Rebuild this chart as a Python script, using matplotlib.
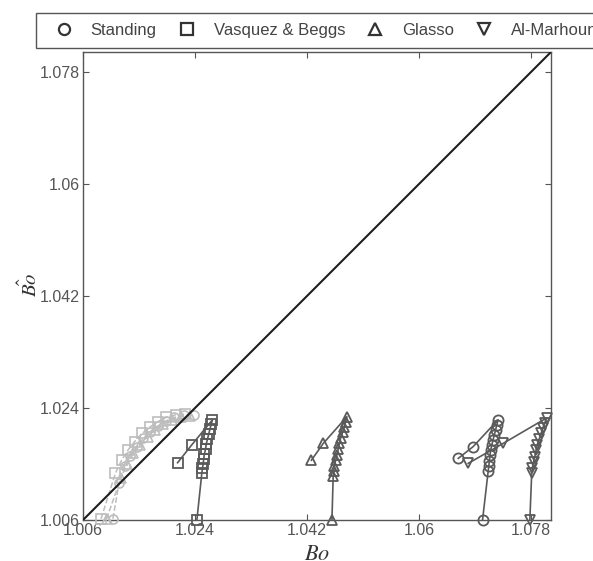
import matplotlib.pyplot as plt
from matplotlib.lines import Line2D

plt.rcParams["font.family"] = ["Liberation Sans", "DejaVu Sans"]
plt.rcParams["mathtext.fontset"] = "stix"

# x = measured Bo, y = predicted Bo
standing_x = [1.0663, 1.0687, 1.0727, 1.0725, 1.0723, 1.0721, 1.0719, 1.0717,
              1.0715, 1.0714, 1.0713, 1.0712, 1.0711, 1.0702]
standing_y = [1.0159, 1.0178, 1.0221, 1.0213, 1.0205, 1.0197, 1.0189, 1.0181,
              1.0172, 1.0164, 1.0155, 1.0146, 1.0138, 1.0060]

vasquez_x = [1.0212, 1.0235, 1.0268, 1.0266, 1.0264, 1.0262, 1.0260, 1.0258,
             1.0257, 1.0255, 1.0254, 1.0253, 1.0252, 1.0251, 1.0243]
vasquez_y = [1.0152, 1.0181, 1.0221, 1.0214, 1.0206, 1.0198, 1.0190, 1.0182,
             1.0174, 1.0166, 1.0158, 1.0150, 1.0143, 1.0136, 1.0060]

glasso_x = [1.0427, 1.0446, 1.0484, 1.0482, 1.0480, 1.0477, 1.0474, 1.0472,
            1.0470, 1.0468, 1.0466, 1.0464, 1.0463, 1.0462, 1.0460]
glasso_y = [1.0156, 1.0183, 1.0226, 1.0218, 1.0210, 1.0201, 1.0192, 1.0183,
            1.0174, 1.0165, 1.0156, 1.0147, 1.0138, 1.0130, 1.0060]

marhoun_x = [1.0679, 1.0735, 1.0805, 1.0802, 1.0799, 1.0796, 1.0793, 1.0790,
             1.0788, 1.0786, 1.0784, 1.0782, 1.0781, 1.0778]
marhoun_y = [1.0151, 1.0183, 1.0224, 1.0216, 1.0208, 1.0199, 1.0190, 1.0181,
             1.0172, 1.0162, 1.0153, 1.0144, 1.0135, 1.0060]

# light grey runs close to the diagonal
grey_circle_x = [1.0108, 1.0118, 1.0127, 1.0136, 1.0146, 1.0157, 1.0168,
                 1.0180, 1.0193, 1.0207, 1.0222, 1.0238]
grey_circle_y = [1.0062, 1.0120, 1.0146, 1.0163, 1.0178, 1.0191, 1.0202,
                 1.0211, 1.0219, 1.0225, 1.0228, 1.0228]
grey_square_x = [1.0089, 1.0112, 1.0122, 1.0132, 1.0143, 1.0155, 1.0167,
                 1.0180, 1.0194, 1.0209, 1.0224]
grey_square_y = [1.0062, 1.0135, 1.0156, 1.0172, 1.0186, 1.0199, 1.0209,
                 1.0218, 1.0225, 1.0229, 1.0230]
grey_tri_x = [1.0098, 1.0121, 1.0131, 1.0141, 1.0152, 1.0164, 1.0176,
              1.0189, 1.0203, 1.0218, 1.0232]
grey_tri_y = [1.0062, 1.0128, 1.0150, 1.0167, 1.0181, 1.0194, 1.0205,
              1.0214, 1.0221, 1.0226, 1.0227]

ticks = [1.006, 1.024, 1.042, 1.06, 1.078]
tick_labels = ["1.006", "1.024", "1.042", "1.06", "1.078"]
lim = (1.006, 1.0812)

DARK = "#5a5a5a"
LIGHT = "#bdbdbd"

fig = plt.figure(figsize=(5.93, 5.61), dpi=100)
ax = fig.add_axes([83 / 593, 41 / 561, 468 / 593, 468 / 561])

ax.plot(lim, lim, color="#1e1e1e", linewidth=1.5, zorder=5)

for xs, ys, m in [(grey_circle_x, grey_circle_y, "o"),
                  (grey_square_x, grey_square_y, "s"),
                  (grey_tri_x, grey_tri_y, "^")]:
    ax.plot(xs, ys, linestyle="--", color=LIGHT, linewidth=1.1, marker=m,
            markersize=6.5, markerfacecolor="none", markeredgecolor=LIGHT,
            markeredgewidth=1.2, clip_on=False, zorder=3)

for xs, ys, m in [(standing_x, standing_y, "o"),
                  (vasquez_x, vasquez_y, "s"),
                  (glasso_x, glasso_y, "^"),
                  (marhoun_x, marhoun_y, "v")]:
    ax.plot(xs, ys, color=DARK, linewidth=1.2, marker=m, markersize=7.3,
            markerfacecolor="none", markeredgecolor=DARK, markeredgewidth=1.3,
            clip_on=False, zorder=4)

ax.set_xlim(lim)
ax.set_ylim(lim)
ax.set_xticks(ticks)
ax.set_yticks(ticks)
ax.set_xticklabels(tick_labels)
ax.set_yticklabels(tick_labels)
ax.tick_params(direction="in", top=True, right=True, length=4, width=0.8,
               colors="#555555", labelsize=11.5, pad=2)
for sp in ax.spines.values():
    sp.set_color("#555555")
    sp.set_linewidth(1.0)

fig.text(317 / 593, 1 - 555 / 561, r"$Bo$", fontsize=16, ha="center",
         va="center", color="#333333")
fig.text(29 / 593, 1 - 285 / 561, r"$\hat{Bo}$", fontsize=15, ha="center",
         va="center", rotation=90, color="#333333")

handles = [Line2D([], [], linestyle="none", marker=m, markersize=8,
                  markerfacecolor="none", markeredgecolor="#333333",
                  markeredgewidth=1.6)
           for m in ["o", "s", "^", "v"]]
labels = ["Standing", "Vasquez & Beggs", "Glasso", "Al-Marhoun"]
leg = fig.legend(handles, labels, loc="upper left",
                 bbox_to_anchor=(36 / 593, 1 - 13 / 561), borderaxespad=0,
                 ncol=4, fancybox=False, framealpha=1, edgecolor="#555555",
                 fontsize=12, handlelength=2.1, handletextpad=0.57,
                 columnspacing=0.75, borderpad=0.6, labelcolor="#444444")
leg.get_frame().set_linewidth(1.0)

fig.savefig("out.png", dpi=100)
